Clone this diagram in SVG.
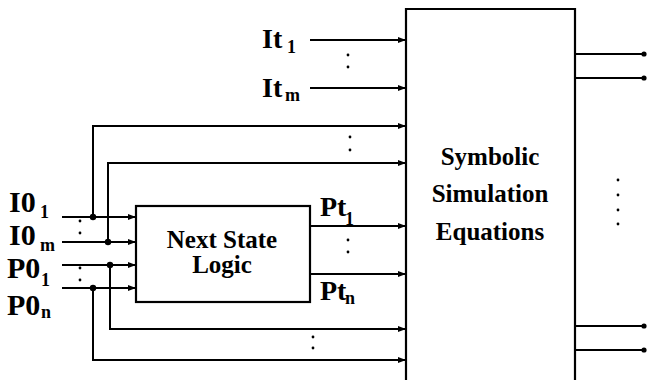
<svg xmlns="http://www.w3.org/2000/svg" width="647" height="380" viewBox="0 0 647 380">
<style>
.ln{fill:none;stroke:#000;stroke-width:2}
.box{fill:#fff;stroke:#000;stroke-width:2.2}
.lab{font-size:28px}
.labl{font-size:30px}
.sub{font-size:18px}
.bt{font-size:25px;text-anchor:middle}
.dot{fill:#000}
</style>
<defs>
<marker id="ar" markerUnits="userSpaceOnUse" markerWidth="9" markerHeight="8" refX="8" refY="4" orient="auto">
<path d="M0,1 L8,4 L0,7 Z" fill="#000"/>
</marker>
</defs>
<g id="sim-box" font-family="Liberation Serif, DejaVu Serif, serif" font-weight="bold">
<path class="box" d="M406,382 V9 H575 V382"/>
<text class="bt" x="490" y="165">Symbolic</text>
<text class="bt" x="490" y="202">Simulation</text>
<text class="bt" x="490" y="240">Equations</text>
</g>
<g id="nsl-box" font-family="Liberation Serif, DejaVu Serif, serif" font-weight="bold">
<rect class="box" x="136" y="206" width="174" height="96"/>
<text class="bt" x="222" y="248">Next State</text>
<text class="bt" x="222" y="273">Logic</text>
</g>
<g id="labels" font-family="Liberation Serif, DejaVu Serif, serif" font-weight="bold">
<text class="lab" x="262" y="48">It</text><text class="sub" x="287" y="53">1</text>
<text class="lab" x="262" y="97">It</text><text class="sub" x="285" y="101">m</text>
<text class="labl" x="9" y="212">I0</text><text class="sub" x="40" y="218">1</text>
<text class="labl" x="9" y="245">I0</text><text class="sub" x="40" y="251">m</text>
<text class="labl" x="7" y="278">P0</text><text class="sub" x="41" y="286">1</text>
<text class="labl" x="7" y="315">P0</text><text class="sub" x="41" y="318">n</text>
<text class="lab" x="320" y="216">Pt</text><text class="sub" x="345" y="225">1</text>
<text class="lab" x="320" y="300">Pt</text><text class="sub" x="345" y="304">n</text>
</g>
<g id="connectors">
<path class="ln" marker-end="url(#ar)" d="M310,40 H406"/>
<path class="ln" marker-end="url(#ar)" d="M310,88 H406"/>
<path class="ln" marker-end="url(#ar)" d="M93,217 V126 H406"/>
<path class="ln" marker-end="url(#ar)" d="M108,242 V163 H406"/>
<path class="ln" marker-end="url(#ar)" d="M310,226 H406"/>
<path class="ln" marker-end="url(#ar)" d="M310,274 H406"/>
<path class="ln" marker-end="url(#ar)" d="M110,265 V329 H406"/>
<path class="ln" marker-end="url(#ar)" d="M93,288 V360 H406"/>
<path class="ln" marker-end="url(#ar)" d="M62,217 H136"/>
<path class="ln" marker-end="url(#ar)" d="M62,242 H136"/>
<path class="ln" marker-end="url(#ar)" d="M62,265 H136"/>
<path class="ln" marker-end="url(#ar)" d="M62,288 H136"/>
<path class="ln" d="M575,54 H644 M575,78 H644 M575,326 H644 M575,350 H644"/>
<circle class="dot" cx="644" cy="54" r="2.6"/>
<circle class="dot" cx="644" cy="78" r="2.6"/>
<circle class="dot" cx="644" cy="326" r="2.6"/>
<circle class="dot" cx="644" cy="350" r="2.6"/>
<circle class="dot" cx="93" cy="217" r="3.2"/>
<circle class="dot" cx="108" cy="242" r="3.2"/>
<circle class="dot" cx="110" cy="265" r="3.2"/>
<circle class="dot" cx="93" cy="288" r="3.2"/>
</g>
<g id="ellipses" class="dot">
<circle cx="348" cy="55" r="1.4"/><circle cx="348" cy="67" r="1.4"/>
<circle cx="350" cy="137" r="1.4"/><circle cx="350" cy="150" r="1.4"/>
<circle cx="348" cy="240" r="1.4"/><circle cx="348" cy="252" r="1.4"/>
<circle cx="313" cy="337" r="1.4"/><circle cx="313" cy="348" r="1.4"/>
<circle cx="80" cy="221" r="1.4"/><circle cx="80" cy="233" r="1.4"/>
<circle cx="80" cy="268" r="1.4"/><circle cx="80" cy="280" r="1.4"/>
<circle cx="618" cy="180" r="1.4"/><circle cx="618" cy="195" r="1.4"/>
<circle cx="618" cy="210" r="1.4"/><circle cx="618" cy="224" r="1.4"/>
</g>
</svg>
